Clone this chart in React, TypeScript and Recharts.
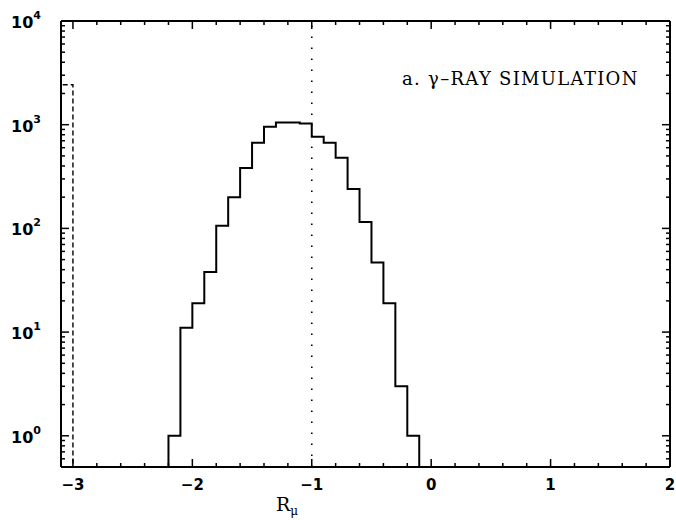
import React from 'react';
import { LineChart, Line, XAxis, YAxis, ReferenceLine } from 'recharts';

// histogram of R_mu, bins of 0.1
const binEdges = [-2.2, -2.1, -2.0, -1.9, -1.8, -1.7, -1.6, -1.5, -1.4, -1.3, -1.2, -1.1, -1.0, -0.9, -0.8, -0.7, -0.6, -0.5, -0.4, -0.3, -0.2, -0.1];
const counts = [1, 11, 19, 38, 106, 200, 382, 670, 955, 1050, 1050, 1025, 765, 670, 480, 240, 115, 47, 19, 3, 1];

// underflow bin (dashed)
const overflowEdges = [-3.1, -3.0];
const overflowCounts = [2430];

const xMajorTicks = [-3, -2, -1, 0, 1, 2];
const yMajorTicks = [1, 10, 100, 1000, 10000];
const cutLine = -1;

const X_DOMAIN: [number, number] = [-3.1, 2];
const Y_DOMAIN: [number, number] = [0.5, 10000];

const stepData = (edges: number[], vals: number[]) => [
  { x: edges[0], y: Y_DOMAIN[0] },
  ...vals.map((v, i) => ({ x: edges[i], y: v })),
  { x: edges[edges.length - 1], y: Y_DOMAIN[0] },
];

const histData = stepData(binEdges, counts);
const overflowData = stepData(overflowEdges, overflowCounts);

const xTicks: number[] = [];
xMajorTicks.forEach((m, i) => {
  xTicks.push(m);
  if (i < xMajorTicks.length - 1) {
    for (let k = 1; k < 5; k++) xTicks.push(Math.round((m + 0.2 * k) * 10) / 10);
  }
});

const yTicks: number[] = [];
[0.1, 1, 10, 100, 1000, 10000].forEach((d) => {
  for (let k = 1; k < 10; k++) {
    const v = Math.round(d * k * 1000) / 1000;
    if (v >= Y_DOMAIN[0] && v <= Y_DOMAIN[1] && !yTicks.includes(v)) yTicks.push(v);
  }
});

const LABEL_FONT = '"DejaVu Sans", sans-serif';
const SERIF = '"DejaVu Serif", serif';

const isMajorX = (v: number) => Math.abs(v - Math.round(v)) < 1e-6;
const isMajorY = (v: number) => yMajorTicks.some((m) => Math.abs(m - v) < 1e-6);
const fmtX = (v: number) => (v < 0 ? '\u2212' + Math.abs(v) : String(v));

const XTick = (props: any) => {
  const { x, y, payload, side } = props;
  const v = payload.value;
  const major = isMajorX(v);
  const len = major ? 8 : 4;
  const dir = side === 'bottom' ? -1 : 1;
  return (
    <g>
      <line x1={x} x2={x} y1={y} y2={y + dir * len} stroke="#000" strokeWidth={1.5} />
      {side === 'bottom' && major && (
        <text x={x} y={y + 23} textAnchor="middle" fontFamily={LABEL_FONT} fontWeight="bold" fontSize={15} fill="#000">
          {fmtX(v)}
        </text>
      )}
    </g>
  );
};

const YTick = (props: any) => {
  const { x, y, payload, side } = props;
  const v = payload.value;
  const major = isMajorY(v);
  const len = major ? 8 : 4;
  const dir = side === 'left' ? 1 : -1;
  return (
    <g>
      <line x1={x} x2={x + dir * len} y1={y} y2={y} stroke="#000" strokeWidth={1.5} />
      {side === 'left' && major && (
        <text x={x - 20} y={y + 7} textAnchor="end" fontFamily={LABEL_FONT} fontWeight="bold" fontSize={16} fill="#000">
          10
          <tspan fontSize={11} dy={-9}>{Math.round(Math.log10(v))}</tspan>
        </text>
      )}
    </g>
  );
};

const axisLine = { stroke: '#000', strokeWidth: 2 };

export default function App() {
  return (
    <div style={{ position: 'absolute', left: 0, top: 0, width: 676, height: 520, background: '#fff' }}>
      <LineChart width={676} height={520} margin={{ top: 20, right: 5, bottom: 0, left: 0 }}>
        <XAxis
          xAxisId={0}
          dataKey="x"
          type="number"
          domain={X_DOMAIN}
          allowDataOverflow
          ticks={xTicks}
          interval={0}
          height={53}
          tickSize={0}
          tickMargin={0}
          tickLine={false}
          axisLine={axisLine}
          tick={(p: any) => <XTick {...p} side="bottom" />}
        />
        <XAxis
          xAxisId="top"
          orientation="top"
          dataKey="x"
          type="number"
          domain={X_DOMAIN}
          allowDataOverflow
          ticks={xTicks}
          interval={0}
          height={1}
          tickSize={0}
          tickMargin={0}
          tickLine={false}
          axisLine={axisLine}
          tick={(p: any) => <XTick {...p} side="top" />}
        />
        <YAxis
          yAxisId={0}
          type="number"
          scale="log"
          domain={Y_DOMAIN}
          allowDataOverflow
          ticks={yTicks}
          interval={0}
          width={61}
          tickSize={0}
          tickMargin={0}
          tickLine={false}
          axisLine={axisLine}
          tick={(p: any) => <YTick {...p} side="left" />}
        />
        <YAxis
          yAxisId="right"
          orientation="right"
          type="number"
          scale="log"
          domain={Y_DOMAIN}
          allowDataOverflow
          ticks={yTicks}
          interval={0}
          width={1}
          tickSize={0}
          tickMargin={0}
          tickLine={false}
          axisLine={axisLine}
          tick={(p: any) => <YTick {...p} side="right" />}
        />
        <ReferenceLine x={cutLine} stroke="#000" strokeWidth={1.6} strokeDasharray="1.6 9.4" />
        <Line
          data={overflowData}
          dataKey="y"
          type="stepAfter"
          stroke="#000"
          strokeWidth={1.4}
          strokeDasharray="5 3"
          dot={false}
          isAnimationActive={false}
        />
        <Line
          data={histData}
          dataKey="y"
          type="stepAfter"
          stroke="#000"
          strokeWidth={2}
          dot={false}
          isAnimationActive={false}
        />
        {/* invisible copy so the mirrored top/right axes are drawn */}
        <Line
          xAxisId="top"
          yAxisId="right"
          data={histData}
          dataKey="y"
          type="stepAfter"
          stroke="none"
          dot={false}
          activeDot={false}
          legendType="none"
          isAnimationActive={false}
        />
      </LineChart>
      <svg width={676} height={520} style={{ position: 'absolute', left: 0, top: 0, pointerEvents: 'none' }}>
        <text x={402} y={85} fontFamily={SERIF} fontSize={18} letterSpacing={1.3} fill="#000">
          a. {'\u03b3'}{'\u2013'}RAY SIMULATION
        </text>
        <text x={276} y={511} fontFamily={SERIF} fontSize={19} fill="#000">
          R<tspan fontSize={12} dy={4}>{'\u03bc'}</tspan>
        </text>
      </svg>
    </div>
  );
}
